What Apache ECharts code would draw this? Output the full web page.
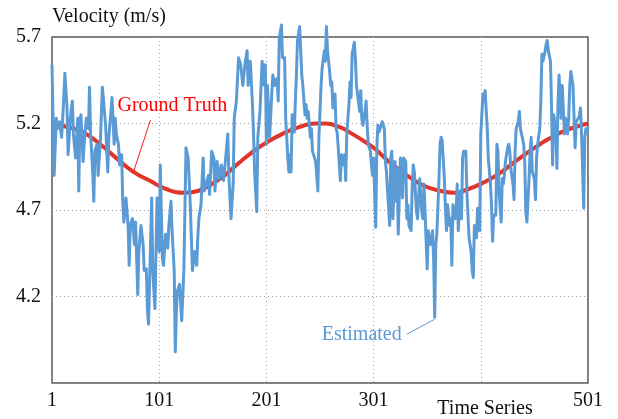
<!DOCTYPE html>
<html>
<head>
<meta charset="utf-8">
<script src="https://cdn.jsdelivr.net/npm/echarts@6/dist/echarts.min.js"></script>
<style>
  html, body { margin: 0; padding: 0; background: #fff; }
  #chart { width: 618px; height: 419px; }
</style>
</head>
<body>
<div id="chart"></div>
<script>
// Estimated velocity samples (time index, m/s)
const estT = [1,3,5,6,8,10,12,13,15,16,18,20,21,23,25,26,27,28,30,31,33,35,36,37,39,40,41,43,44,46,48,49,51,53,54,56,57,59,60,61,63,64,66,67,68,70,72,73,74,76,78,79,81,82,84,86,87,89,90,91,92,94,95,97,98,99,100,
  101,102,104,105,107,109,110,112,113,115,116,117,118,120,122,124,126,128,130,131,132,134,136,137,138,140,142,143,145,147,148,150,152,153,155,157,159,161,163,165,166,168,170,171,173,175,177,179,181,183,184,186,188,189,190,192,193,195,197,199,200,
  201,202,204,206,207,209,211,212,213,215,216,218,219,221,222,223,224,225,227,228,229,230,232,233,234,235,237,238,239,240,242,243,244,247,249,250,251,252,253,255,256,257,258,260,261,262,263,265,266,267,268,270,271,273,274,275,276,278,279,280,281,283,284,285,286,288,289,290,291,293,294,295,296,298,299,300,
  301,303,304,305,306,308,309,311,312,313,314,316,317,318,319,321,322,323,324,326,327,328,329,331,332,333,334,336,337,338,339,341,342,343,344,346,347,348,349,351,352,353,354,356,357,358,359,360,362,363,364,365,367,368,369,370,372,373,374,375,377,378,379,380,382,383,384,385,387,388,389,390,392,393,394,395,397,398,399,400,
  401,403,404,405,406,407,408,410,411,412,413,415,416,417,418,420,421,422,423,424,426,427,428,429,431,432,433,434,436,437,438,439,441,442,443,444,446,447,448,449,451,452,453,454,456,457,458,459,461,462,463,464,466,467,468,469,471,472,473,474,476,477,478,479,480,482,483,484,485,487,488,489,490,492,493,494,495,497,498,499,500,501];
const estV = [5.54,4.90,5.23,5.17,5.21,5.12,5.35,5.49,5.29,5.02,5.23,5.33,5.14,5.00,5.23,4.81,5.23,5.25,4.98,5.08,5.23,5.17,5.41,5.14,4.92,4.75,5.04,5.08,4.90,5.08,5.41,5.42,5.19,4.92,5.12,5.27,5.35,5.08,5.23,5.14,5.08,4.96,5.02,4.75,4.63,4.77,4.61,4.38,4.61,4.65,4.50,4.63,4.21,4.46,4.61,4.50,4.35,4.36,4.13,4.04,4.27,4.77,4.35,4.13,4.46,4.77,4.73,
  4.46,4.96,4.42,4.38,4.56,4.48,4.61,4.75,4.58,4.35,3.88,4.11,4.23,4.27,4.06,4.35,5.06,5.00,4.73,4.54,4.35,4.46,4.38,4.54,4.65,4.73,5.00,4.81,4.85,4.90,4.79,5.04,5.00,4.81,4.98,4.88,4.96,4.87,5.00,5.14,4.90,4.65,4.85,5.23,5.33,5.58,5.54,5.42,5.54,5.62,5.42,5.56,5.31,5.14,4.92,4.69,5.12,5.27,5.56,5.42,5.54,
  5.08,5.42,5.12,5.37,5.48,5.42,5.46,5.33,5.69,5.77,5.58,5.58,5.23,5.00,4.92,5.02,4.92,5.25,5.15,5.33,5.48,5.68,5.76,5.62,5.48,5.42,5.25,5.31,5.23,5.27,5.12,5.17,5.04,4.98,4.81,5.12,5.27,5.42,5.52,5.62,5.56,5.76,5.62,5.50,5.42,5.44,5.29,5.37,5.17,5.15,5.06,4.87,5.02,4.96,5.02,4.87,5.14,5.31,5.44,5.35,5.60,5.67,5.58,5.42,5.37,5.27,5.39,5.23,5.19,5.27,5.33,5.19,5.08,5.04,4.96,4.90,
  5.00,4.60,5.06,5.19,5.15,5.19,5.21,5.17,4.98,4.92,4.81,4.61,5.00,5.04,4.65,4.98,4.75,4.94,4.56,5.00,4.96,4.77,5.00,4.98,4.65,4.73,4.61,4.58,4.83,4.96,4.92,4.69,4.65,4.77,4.88,4.69,4.65,4.85,4.69,4.36,4.58,4.52,4.50,4.58,4.42,4.08,4.50,4.56,4.88,5.08,5.12,5.10,4.88,4.71,4.58,4.73,4.61,4.65,4.38,4.73,4.65,4.69,4.85,4.58,4.81,4.65,5.00,5.04,5.04,4.81,4.81,4.54,4.46,4.35,4.31,4.61,4.54,4.71,4.65,4.58,
  5.14,5.37,5.35,5.39,5.39,5.17,5.00,4.85,4.73,4.52,4.67,4.67,5.08,5.04,4.81,4.63,4.88,4.85,4.90,4.98,5.06,5.08,5.04,4.94,4.85,4.76,5.04,5.17,5.21,5.27,5.17,5.14,5.08,4.98,4.69,4.63,4.88,5.04,5.12,4.92,4.88,4.76,5.00,5.08,5.17,5.33,5.60,5.56,5.62,5.66,5.68,5.62,5.56,5.29,4.96,5.25,5.17,4.94,5.31,5.48,5.23,5.42,5.41,5.14,5.23,5.14,5.23,5.42,5.50,5.42,5.23,5.06,5.21,5.23,5.25,5.29,5.14,4.71,5.12,5.17,5.15,5.18];

// Ground-truth velocity (smooth reference curve)
const truthT = [1,15,30,46,61,77,92,108,125,137,150,162,175,187,201,216,232,247,256,269,281,294,303,317,332,348,364,376,389,404,418,433,449,464,480,495,501];
const truthV = [5.20,5.18,5.15,5.08,5.00,4.92,4.87,4.82,4.80,4.81,4.85,4.90,4.97,5.03,5.09,5.14,5.18,5.20,5.20,5.18,5.14,5.09,5.05,4.97,4.90,4.84,4.81,4.80,4.82,4.86,4.91,4.98,5.05,5.11,5.16,5.19,5.20];

// Axis settings
const xMin = 1, xMax = 501, xStep = 100, xHiddenLabel = 401;
const yMin = 3.7, yMax = 5.7, yStep = 0.5;

const FONT = '"Liberation Serif", "Times New Roman", serif';
const BLUE = '#5b9bd5';
const RED = '#e0352a';

const zip = (a, b) => a.map((v, i) => [v, b[i]]);

const chart = echarts.init(document.getElementById('chart'), null, { renderer: 'canvas' });

chart.setOption({
  animation: false,
  backgroundColor: '#fff',
  grid: {
    left: 52, right: 30, top: 37, bottom: 36,
    show: true, borderColor: '#555', borderWidth: 1.5, backgroundColor: 'transparent'
  },
  xAxis: {
    type: 'value', min: xMin, max: xMax, interval: xStep,
    axisLine: { show: false }, axisTick: { show: false },
    splitLine: { show: true, lineStyle: { type: [1, 3], color: '#a0a0a0', width: 1 } },
    axisLabel: {
      margin: 8, color: '#111', fontFamily: FONT, fontSize: 20,
      formatter: v => (Math.round(v) === xHiddenLabel ? '' : String(Math.round(v)))
    },
    name: 'Time Series', nameLocation: 'end', nameGap: -103,
    nameTextStyle: { color: '#111', fontFamily: FONT, fontSize: 20, align: 'center', verticalAlign: 'top', padding: [16, 0, 0, 0] }
  },
  yAxis: {
    type: 'value', min: yMin, max: yMax, interval: yStep,
    axisLine: { show: false }, axisTick: { show: false },
    splitLine: { show: true, lineStyle: { type: [1, 3], color: '#a0a0a0', width: 1 } },
    axisLabel: {
      margin: 11, color: '#111', fontFamily: FONT, fontSize: 20,
      formatter: v => (Math.abs(v - yMin) < 1e-6 ? '' : v.toFixed(1))
    },
    name: 'Velocity (m/s)', nameLocation: 'end', nameGap: 20,
    nameTextStyle: { color: '#111', fontFamily: FONT, fontSize: 20, align: 'left', verticalAlign: 'middle' }
  },
  series: [
    {
      name: 'Ground Truth', type: 'line', data: zip(truthT, truthV),
      smooth: 0.5, showSymbol: false, clip: false, z: 2,
      lineStyle: { color: RED, width: 4 }
    },
    {
      name: 'Estimated', type: 'line', data: zip(estT, estV),
      showSymbol: false, clip: false, z: 3,
      lineStyle: { color: BLUE, width: 3, join: 'round' }
    }
  ]
});

// Callout labels anchored to points on the curves
const gtAnchor = chart.convertToPixel({ gridIndex: 0 }, [77, 4.92]);
const esAnchor = chart.convertToPixel({ gridIndex: 0 }, [358, 4.08]);

chart.setOption({
  graphic: [
    { type: 'line', shape: { x1: gtAnchor[0] + 17, y1: gtAnchor[1] - 52, x2: gtAnchor[0], y2: gtAnchor[1] },
      style: { stroke: '#ff1a1a', lineWidth: 1 }, z: 10 },
    { type: 'text', x: gtAnchor[0] - 16, y: gtAnchor[1] - 66,
      style: { text: 'Ground Truth', fill: '#ff0000', font: '20px ' + FONT, align: 'left', verticalAlign: 'middle' }, z: 10 },
    { type: 'line', shape: { x1: esAnchor[0] - 28, y1: esAnchor[1] + 17, x2: esAnchor[0], y2: esAnchor[1] + 2 },
      style: { stroke: BLUE, lineWidth: 1 }, z: 10 },
    { type: 'text', x: esAnchor[0] - 33, y: esAnchor[1] + 17,
      style: { text: 'Estimated', fill: BLUE, font: '20px ' + FONT, align: 'right', verticalAlign: 'middle' }, z: 10 }
  ]
});
</script>
</body>
</html>
